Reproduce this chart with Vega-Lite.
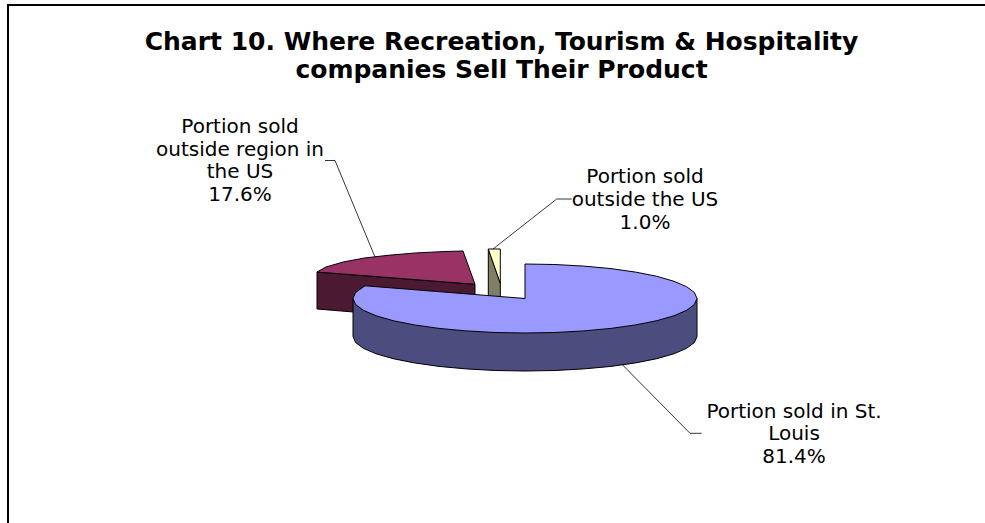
{
  "$schema": "https://vega.github.io/schema/vega-lite/v6.json",
  "width": 985,
  "height": 523,
  "autosize": {"type": "none"},
  "padding": 0,
  "background": "white",
  "view": {"stroke": null},
  "config": {"line": {"strokeJoin": "miter"}},
  "datasets": {
    "frame": [{"x":8,"y":523},{"x":8,"y":5},{"x":985,"y":5}],
    "regionSide": [{"x":317,"y":272},{"x":475,"y":284.3},{"x":475,"y":322},{"x":317,"y":309},{"x":317,"y":272}],
    "regionTop": [{"x":475,"y":284.3},{"x":317,"y":272},{"x":326,"y":267},{"x":343.2,"y":262},{"x":364.4,"y":258},{"x":389,"y":255.2},{"x":416.2,"y":252.9},{"x":445.1,"y":251.5},{"x":463,"y":251},{"x":475,"y":284.3}],
    "exportSide": [{"x":488.3,"y":249},{"x":500.3,"y":283.3},{"x":500.3,"y":302},{"x":488.3,"y":302},{"x":488.3,"y":249}],
    "exportTop": [{"x":488.3,"y":249},{"x":500.3,"y":249},{"x":500.3,"y":283.3},{"x":488.3,"y":249}],
    "localSide": [{"x":697,"y":298.5},{"x":697,"y":336.5},{"x":694.4,"y":342.5},{"x":686.6,"y":348.3},{"x":674,"y":353.75},{"x":656.8,"y":358.7},{"x":635.6,"y":362.9},{"x":611,"y":366.4},{"x":583.8,"y":368.9},{"x":554.9,"y":370.5},{"x":525,"y":371},{"x":495.1,"y":370.5},{"x":466.2,"y":368.9},{"x":439,"y":366.4},{"x":414.4,"y":362.9},{"x":393.2,"y":358.7},{"x":376,"y":353.75},{"x":363.4,"y":348.3},{"x":355.6,"y":342.5},{"x":353,"y":336.5},{"x":353,"y":298.5},{"x":697,"y":298.5}],
    "localTop": [{"x":525,"y":264},{"x":554.9,"y":264.5},{"x":583.8,"y":266.1},{"x":611,"y":268.6},{"x":635.6,"y":272.1},{"x":656.8,"y":276.3},{"x":674,"y":281.3},{"x":686.6,"y":286.7},{"x":694.4,"y":292.5},{"x":697,"y":298.5},{"x":694.4,"y":304.5},{"x":686.6,"y":310.3},{"x":674,"y":315.75},{"x":656.8,"y":320.7},{"x":635.6,"y":324.9},{"x":611,"y":328.4},{"x":583.8,"y":330.9},{"x":554.9,"y":332.5},{"x":525,"y":333},{"x":495.1,"y":332.5},{"x":466.2,"y":330.9},{"x":439,"y":328.4},{"x":414.4,"y":324.9},{"x":393.2,"y":320.7},{"x":376,"y":315.75},{"x":363.4,"y":310.3},{"x":355.6,"y":304.5},{"x":353,"y":298.5},{"x":355.6,"y":292.5},{"x":365,"y":285.8},{"x":525,"y":298.5},{"x":525,"y":264}],
    "leaders": [
      {"slice":"region","x":325,"y":160.5},{"slice":"region","x":335,"y":160.5},{"slice":"region","x":375,"y":257},
      {"slice":"export","x":571.7,"y":199},{"slice":"export","x":556.7,"y":199},{"slice":"export","x":493,"y":249},
      {"slice":"local","x":701.7,"y":433.3},{"slice":"local","x":690,"y":433.3},{"slice":"local","x":621.7,"y":364}
    ],
    "heading": [
      {"text":"Chart 10. Where Recreation, Tourism & Hospitality","x":501.5,"y":50},
      {"text":"companies Sell Their Product","x":501.5,"y":78}
    ],
    "labels": [
      {"text":"Portion sold","x":240,"y":133},
      {"text":"outside region in","x":240,"y":156},
      {"text":"the US","x":240,"y":178},
      {"text":"17.6%","x":240,"y":201},
      {"text":"Portion sold","x":645,"y":183},
      {"text":"outside the US","x":645,"y":206},
      {"text":"1.0%","x":645,"y":229},
      {"text":"Portion sold in St.","x":794,"y":418},
      {"text":"Louis","x":794,"y":440},
      {"text":"81.4%","x":794,"y":463}
    ]
  },
  "encoding": {
    "x": {"field": "x", "type": "quantitative", "scale": {"domain": [0, 985], "nice": false, "zero": false}, "axis": null},
    "y": {"field": "y", "type": "quantitative", "scale": {"domain": [523, 0], "nice": false, "zero": false}, "axis": null}
  },
  "layer": [
    {"data": {"name": "frame"}, "transform": [{"window": [{"op": "row_number", "as": "seq"}]}], "mark": {"type": "line", "stroke": "#000", "strokeWidth": 2}, "encoding": {"order": {"field": "seq", "type": "quantitative"}}},
    {"data": {"name": "leaders"}, "transform": [{"window": [{"op": "row_number", "as": "seq"}]}], "mark": {"type": "line", "stroke": "#000", "strokeWidth": 0.8}, "encoding": {"detail": {"field": "slice"}, "order": {"field": "seq", "type": "quantitative"}}},
    {"data": {"name": "regionSide"}, "transform": [{"window": [{"op": "row_number", "as": "seq"}]}], "mark": {"type": "line", "fill": "#4C1933", "stroke": "#000", "strokeWidth": 1}, "encoding": {"order": {"field": "seq", "type": "quantitative"}}},
    {"data": {"name": "regionTop"}, "transform": [{"window": [{"op": "row_number", "as": "seq"}]}], "mark": {"type": "line", "fill": "#993366", "stroke": "#000", "strokeWidth": 1}, "encoding": {"order": {"field": "seq", "type": "quantitative"}}},
    {"data": {"name": "exportSide"}, "transform": [{"window": [{"op": "row_number", "as": "seq"}]}], "mark": {"type": "line", "fill": "#7F7F66", "stroke": "#000", "strokeWidth": 1}, "encoding": {"order": {"field": "seq", "type": "quantitative"}}},
    {"data": {"name": "exportTop"}, "transform": [{"window": [{"op": "row_number", "as": "seq"}]}], "mark": {"type": "line", "fill": "#FFFFCC", "stroke": "#000", "strokeWidth": 1}, "encoding": {"order": {"field": "seq", "type": "quantitative"}}},
    {"data": {"name": "localSide"}, "transform": [{"window": [{"op": "row_number", "as": "seq"}]}], "mark": {"type": "line", "fill": "#4C4C7F", "stroke": "#000", "strokeWidth": 1}, "encoding": {"order": {"field": "seq", "type": "quantitative"}}},
    {"data": {"name": "localTop"}, "transform": [{"window": [{"op": "row_number", "as": "seq"}]}], "mark": {"type": "line", "fill": "#9999FF", "stroke": "#000", "strokeWidth": 1}, "encoding": {"order": {"field": "seq", "type": "quantitative"}}},
    {"data": {"name": "heading"}, "mark": {"type": "text", "font": "DejaVu Sans", "fontWeight": "bold", "fontSize": 25, "align": "center", "baseline": "alphabetic", "color": "#000"}, "encoding": {"text": {"field": "text"}}},
    {"data": {"name": "labels"}, "mark": {"type": "text", "font": "DejaVu Sans", "fontSize": 20, "align": "center", "baseline": "alphabetic", "color": "#000"}, "encoding": {"text": {"field": "text"}}}
  ]
}
